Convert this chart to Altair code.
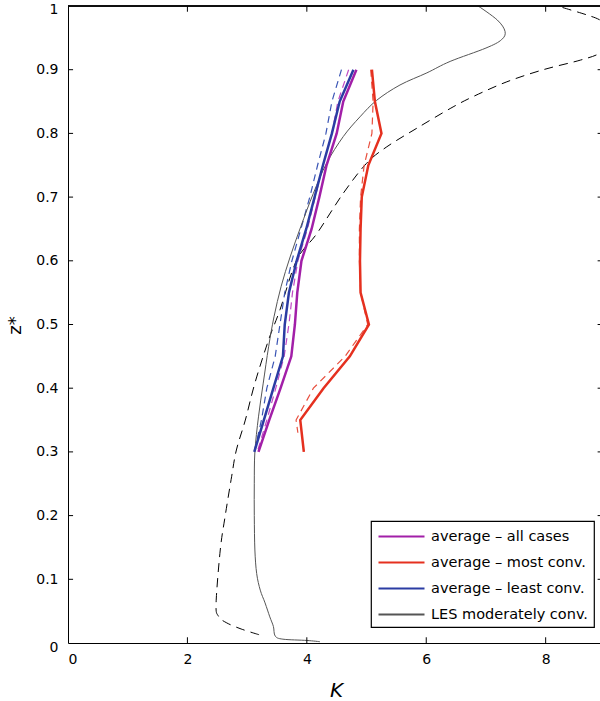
import altair as alt
import pandas as pd

# ---------------- data ----------------
z_avg = [0.9, 0.85, 0.8, 0.75, 0.7, 0.65, 0.6, 0.55, 0.5, 0.45, 0.4, 0.35, 0.3]
k_all = [4.83, 4.61, 4.50, 4.33, 4.21, 4.08, 3.91, 3.84, 3.80, 3.74, 3.56, 3.37, 3.19]
k_all_d = [4.70, 4.52, 4.42, 4.27, 4.14, 4.01, 3.85, 3.76, 3.70, 3.62, 3.48, 3.33, 3.17]
k_most = [5.09, 5.14, 5.25, 5.03, 4.92, 4.90, 4.89, 4.90, 5.04, 4.72, 4.28, 3.89, 3.95]
z_most_d = [0.9, 0.85, 0.8, 0.75, 0.7, 0.65, 0.6, 0.55, 0.5, 0.45, 0.4, 0.35, 0.33]
k_most_d = [5.07, 5.11, 5.09, 4.96, 4.90, 4.88, 4.88, 4.90, 5.02, 4.64, 4.11, 3.82, 3.85]
k_least = [4.78, 4.55, 4.42, 4.27, 4.13, 3.99, 3.83, 3.70, 3.63, 3.60, 3.44, 3.28, 3.12]
k_least_d = [4.58, 4.42, 4.32, 4.18, 4.05, 3.90, 3.75, 3.63, 3.55, 3.47, 3.33, 3.24, 3.12]

z_les = [0.002, 0.004, 0.006, 0.011, 0.026, 0.041, 0.063, 0.083, 0.109, 0.146, 0.2, 0.25,
         0.3, 0.355, 0.408, 0.465, 0.512, 0.56, 0.606, 0.654, 0.706, 0.753, 0.795, 0.826,
         0.852, 0.876, 0.895, 0.913, 0.934, 0.947, 0.96, 0.978, 1.0]
k_les = [4.22, 4.0, 3.6, 3.47, 3.44, 3.38, 3.30, 3.22, 3.16, 3.13, 3.12, 3.12,
         3.13, 3.19, 3.27, 3.36, 3.45, 3.57, 3.72, 3.90, 4.11, 4.33, 4.61, 4.89,
         5.17, 5.56, 6.01, 6.40, 7.0, 7.26, 7.32, 7.19, 6.87]

z_les_d = [0.013, 0.022, 0.032, 0.042, 0.062, 0.146, 0.198, 0.261, 0.303, 0.35, 0.408,
           0.476, 0.523, 0.601, 0.643, 0.706, 0.753, 0.779, 0.808, 0.839, 0.858, 0.881,
           0.9, 0.915, 0.926, 0.945, 0.965, 0.978, 0.986, 0.998, 1.0]
k_les_d = [3.20, 2.90, 2.65, 2.52, 2.48, 2.55, 2.63, 2.74, 2.82, 2.97, 3.13,
           3.36, 3.55, 3.83, 4.17, 4.61, 5.00, 5.34, 5.84, 6.40, 6.79, 7.35,
           7.96, 8.58, 8.91, 9.15, 9.10, 8.91, 8.69, 8.27, 8.20]

names = ["average \u2013 all cases", "average \u2013 most conv.",
         "average \u2013 least conv.", "LES moderately conv."]
colors = ["#a21fa8", "#e5301f", "#2b3ca3", "#555555"]
dcolors = ["#c04ac4", "#e8503f", "#3a55b5"]

x_ticks = [2, 4, 6, 8]
y_ticks = [0.1, 0.2, 0.3, 0.4, 0.5, 0.6, 0.7, 0.8, 0.9]
x_labels = [0, 2, 4, 6, 8]
y_labels = [0, 0.1, 0.2, 0.3, 0.4, 0.5, 0.6, 0.7, 0.8, 0.9, 1.0]
XMAX = 8.91


def frame(ks, zs, name):
    return pd.DataFrame({"K": ks, "z": zs, "series": name, "i": range(len(ks))})


avg_df = pd.concat([
    frame(k_all, z_avg, names[0]),
    frame(k_most, z_avg, names[1]),
    frame(k_least, z_avg, names[2]),
])
les_df = frame(k_les, z_les, names[3])
all_d_df = frame(k_all_d, z_avg, "all_d")
most_d_df = frame(k_most_d, z_most_d, "most_d")
least_d_df = frame(k_least_d, z_avg, "least_d")
les_d_df = frame(k_les_d, z_les_d, "les_d")

xt_df = pd.DataFrame({"K": x_ticks})
yt_df = pd.DataFrame({"z": y_ticks})

xscale = alt.Scale(domain=[0, XMAX], nice=False, zero=False)
yscale = alt.Scale(domain=[0, 1], nice=False, zero=False)

xaxis = alt.Axis(values=x_labels, format="~g", tickSize=0, grid=False, domainColor="black",
                 labelPadding=9, labelFontSize=14, labelColor="black",
                 title="K", titleFontStyle="italic", titleFontWeight="normal",
                 titleFontSize=20, titleColor="black",
                 titleX=268, titleY=47, titleBaseline="middle", titleAlign="center")
yaxis = alt.Axis(values=y_labels, format="~g", tickSize=0, grid=False,
                 domainColor="black", labelPadding=10, labelFontSize=14,
                 labelColor="black",
                 labelOffset={"condition": [{"test": "datum.value >= 1", "value": 3},
                                            {"test": "datum.value <= 0", "value": 4}],
                              "value": 0},
                 title="z*", titleFontWeight="normal",
                 titleFontSize=18, titleColor="black", titleAngle=270,
                 titleX=-53, titleY=319, titleBaseline="middle", titleAlign="center")

les_dashed = alt.Chart(les_d_df).mark_line(
    clip=True, strokeDash=[9, 6], strokeWidth=1, color="black", interpolate="cardinal"
).encode(
    x=alt.X("K:Q", scale=xscale, axis=xaxis),
    y=alt.Y("z:Q", scale=yscale, axis=yaxis),
    order="i:Q",
)


def dashed_layer(df, col):
    return alt.Chart(df).mark_line(
        clip=True, strokeDash=[7, 5], strokeWidth=1.2, color=col
    ).encode(x="K:Q", y="z:Q", order="i:Q")


color_enc = alt.Color("series:N", scale=alt.Scale(domain=names, range=colors),
                      legend=alt.Legend(title=None))

avg_solid = alt.Chart(avg_df).mark_line(clip=True, strokeWidth=2.5).encode(
    x="K:Q", y="z:Q", color=color_enc, order="i:Q")
les_solid = alt.Chart(les_df).mark_line(
    clip=True, strokeWidth=1, color="black", interpolate="cardinal"
).encode(x="K:Q", y="z:Q", color=color_enc, order="i:Q")

rule_base = dict(color="black", strokeWidth=1)
bottom_ticks = alt.Chart(xt_df).mark_rule(**rule_base).encode(
    x="K:Q", y=alt.datum(0), y2=alt.datum(0.009))
top_ticks = alt.Chart(xt_df).mark_rule(**rule_base).encode(
    x="K:Q", y=alt.datum(1), y2=alt.datum(0.991))
left_ticks = alt.Chart(yt_df).mark_rule(**rule_base).encode(
    y="z:Q", x=alt.datum(0), x2=alt.datum(0.085))
right_ticks = alt.Chart(yt_df).mark_rule(**rule_base).encode(
    y="z:Q", x=alt.datum(XMAX - 0.04), x2=alt.datum(XMAX))
top_line = alt.Chart(xt_df).mark_rule(**rule_base).encode(
    x=alt.datum(0), x2=alt.datum(XMAX), y=alt.datum(1))

chart = alt.layer(
    les_dashed,
    dashed_layer(all_d_df, dcolors[0]),
    dashed_layer(most_d_df, dcolors[1]),
    dashed_layer(least_d_df, dcolors[2]),
    les_solid, avg_solid,
    bottom_ticks, top_ticks, left_ticks, right_ticks, top_line,
).properties(
    width=532, height=637,
    autosize=alt.AutoSizeParams(type="none"),
    padding={"left": 68, "top": 6, "right": 0, "bottom": 58},
    background="white",
).configure(
    font="DejaVu Sans"
).configure_view(
    stroke=None
).configure_legend(
    orient="none", legendX=303, legendY=515,
    strokeColor="black", strokeWidth=1.2, fillColor="white",
    padding=6, rowPadding=10, symbolType="M-1,0H4.75", symbolSize=256,
    symbolStrokeWidth=2.2,
    labelFontSize=14.5, labelColor="black", labelOffset=35, labelLimit=300,
)

chart.save("out.html", embed_options={"renderer": "svg", "actions": False})
